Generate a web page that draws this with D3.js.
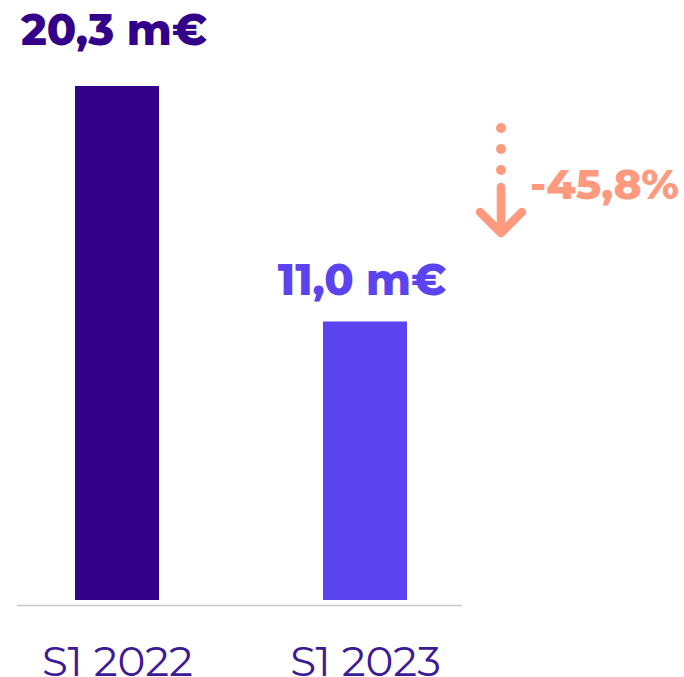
<!DOCTYPE html>
<html>
<head>
<meta charset="utf-8">
<script src="https://cdn.jsdelivr.net/npm/d3@7"></script>
<style>
  body { margin: 0; background: #fff; }
  svg { display: block; }
</style>
</head>
<body>
<div id="chart"></div>
<script>
// data
const periods = ["S1 2022", "S1 2023"]
const values = [20.3, 11.0]
const valueLabels = ["20,3 m€", "11,0 m€"]
const barColors = ["#33008a", "#5b43f0"]
const changeLabel = "-45,8%"

const width = 684
const height = 677
const baseline = 600
const barWidth = 84
const labelGap = [41, 26] // distance from bar top to label baseline
const font = "Montserrat, 'Open Sans', sans-serif"

// scales
const xScale = d3.scalePoint()
      .domain(periods)
      .range([117, 365])
const yScale = d3.scaleLinear()
      .domain([0, d3.max(values)])
      .range([baseline, 86])

const svg = d3.select("#chart").append("svg")
      .attr("width", width)
      .attr("height", height)
      .attr("viewBox", [0, 0, width, height])

// bars
svg.append("g")
      .selectAll("rect")
      .data(periods)
      .join("rect")
      .attr("x", d => xScale(d) - barWidth / 2)
      .attr("y", (d, i) => yScale(values[i]))
      .attr("width", barWidth)
      .attr("height", (d, i) => yScale(0) - yScale(values[i]))
      .attr("fill", (d, i) => barColors[i])

// baseline
svg.append("line")
      .attr("x1", 17)
      .attr("x2", 462)
      .attr("y1", 605.5)
      .attr("y2", 605.5)
      .attr("stroke", "#c8c8c8")
      .attr("stroke-width", 1.5)

// x axis labels
const xAxis = d3.axisBottom(xScale).tickSize(0).tickPadding(0)
svg.append("g")
      .attr("transform", `translate(0,${baseline})`)
      .call(xAxis)
      .call(g => g.select(".domain").remove())
      .call(g => g.selectAll(".tick text")
            .attr("dy", null)
            .attr("y", 76)
            .attr("font-family", font)
            .attr("font-weight", 400)
            .attr("font-size", 42)
            .attr("fill", "#3d1a96"))

// value labels
svg.append("g")
      .selectAll("text")
      .data(periods)
      .join("text")
      .attr("x", d => xScale(d) - 3)
      .attr("y", (d, i) => yScale(values[i]) - labelGap[i])
      .attr("text-anchor", "middle")
      .attr("font-family", font)
      .attr("font-weight", 800)
      .attr("font-size", 43)
      .attr("fill", (d, i) => barColors[i])
      .text((d, i) => valueLabels[i])

// change indicator
const salmon = "#ff9a7e"
const arrow = svg.append("g").attr("fill", salmon).attr("stroke", salmon)
arrow.selectAll("circle")
      .data([128, 149, 170])
      .join("circle")
      .attr("cx", 501)
      .attr("cy", d => d)
      .attr("r", 5)
      .attr("stroke", "none")
arrow.append("path")
      .attr("d", "M501,187 V233 M480,212 L501,233 L522,212")
      .attr("fill", "none")
      .attr("stroke-width", 8.5)
      .attr("stroke-linecap", "round")
      .attr("stroke-linejoin", "round")
svg.append("text")
      .attr("x", 530)
      .attr("y", 199)
      .attr("font-family", font)
      .attr("font-weight", 800)
      .attr("font-size", 42)
      .attr("fill", salmon)
      .text(changeLabel)
</script>
</body>
</html>
